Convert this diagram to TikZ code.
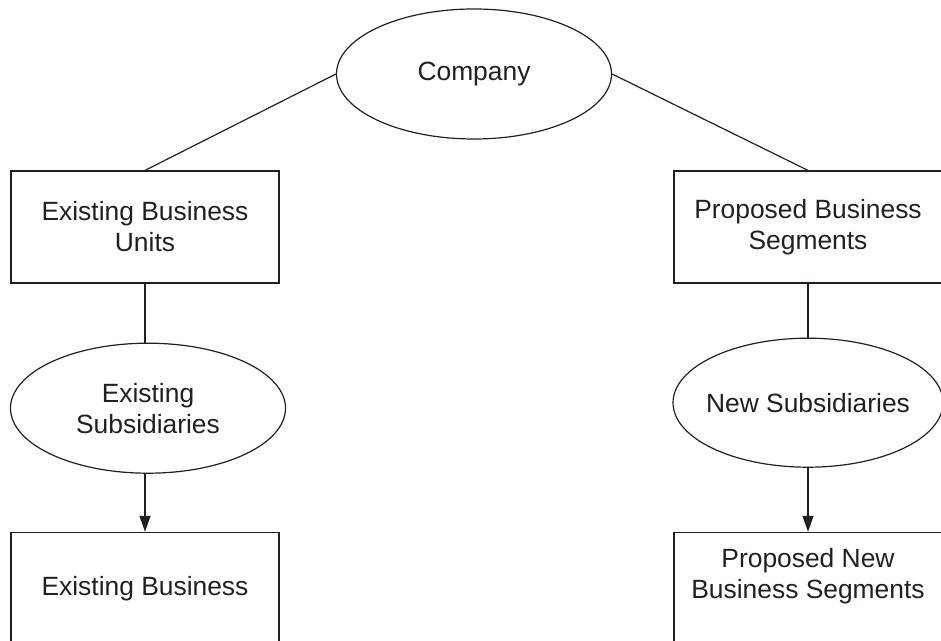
\documentclass[tikz,border=0pt]{standalone}
\usepackage{fontspec}
\setmainfont{Liberation Sans}
\usetikzlibrary{positioning, shapes.geometric, arrows.meta}
\definecolor{inkgray}{HTML}{231F20}

\begin{document}
\begin{tikzpicture}[x=0.5pt, y=-0.5pt, line width=0.6pt, color=inkgray,
        unit/.style={draw, rectangle, minimum width=134pt, minimum height=56pt, inner sep=0pt, align=center, font=\fontsize{13.2}{15.5}\selectfont},
        sub/.style={draw, ellipse, minimum width=137.5pt, minimum height=65pt, inner sep=0pt, align=center, font=\fontsize{13.2}{15.5}\selectfont},
        tip/.style={-{Triangle[length=8pt,width=5.5pt]}}]
      \useasboundingbox (0,0) rectangle (941,641);
      \node[sub] (co) at (474,74) {Company};
      \node[unit] (eu) at (145,227) {Existing Business\\Units};
      \node[unit] (ps) at (808,227) {Proposed Business\\Segments};
      \node[sub, below=29.5pt of eu, xshift=1.5pt] (es) {Existing\\Subsidiaries};
      \node[unit, below=29pt of es, xshift=-1.5pt] (eb) {Existing Business};
      \node[sub, below=27pt of ps, minimum width=135pt, minimum height=64.5pt, inner xsep=-4pt] (ns) {New Subsidiaries};
      \node[unit, below=32pt of ns, text depth=15pt] (pn) {Proposed New\\Business Segments};
      \draw (co.west)--(eu.north);
      \draw (co.east)--(ps.north);
      \draw (eu)--(eu |- es.north);
      \draw (ps)--(ns);
      \draw[tip] (eu |- es.south)--(eb);
      \draw[tip] (ns)--(pn);
    \end{tikzpicture}
\end{document}
